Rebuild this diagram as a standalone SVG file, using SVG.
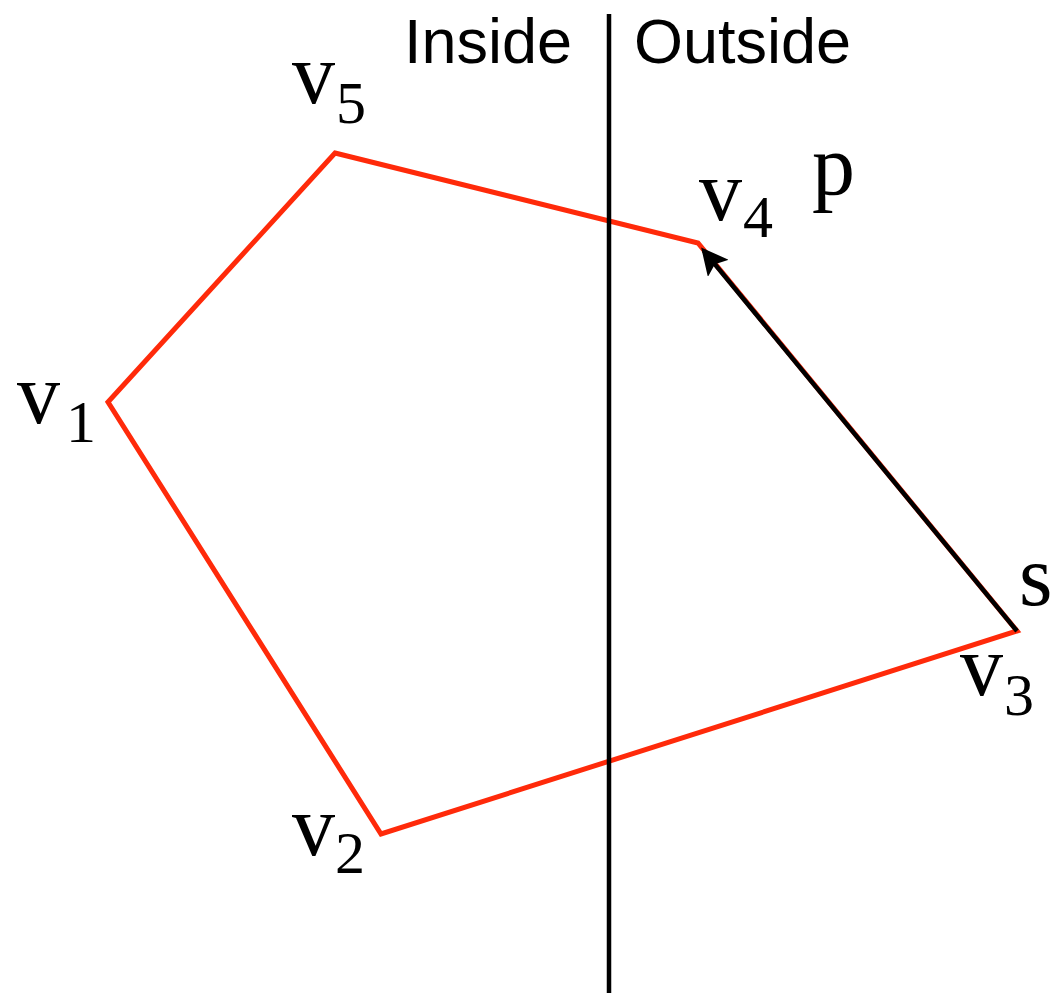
<svg xmlns="http://www.w3.org/2000/svg" width="1050" height="995" viewBox="0 0 1050 995">
<style>
.lbl{font-family:'Liberation Serif','Times New Roman',Times,serif;font-size:86px;fill:#000}
.sub{font-size:60px}
.side{font-family:"Liberation Sans",Arial,sans-serif;font-size:63px;fill:#000}
.poly{fill:none;stroke:#ff2a0a;stroke-width:5;stroke-linejoin:miter}
.edge{fill:none;stroke:#000;stroke-width:4.5}
</style>
<defs>
<marker id="ah" markerWidth="6" markerHeight="6" refX="5" refY="3" orient="auto" markerUnits="strokeWidth">
<path d="M0,0 L6,3 L0,6 L1.2,3 Z" fill="#000"/>
</marker>
</defs>
<rect width="1050" height="995" fill="#fff"/>
<g id="polygon">
<polygon class="poly" points="335,153 698,243 1017,631 381,834 108,402"/>
</g>
<g id="connectors">
<line class="edge" x1="609" y1="14" x2="609" y2="993"/>
<line class="edge" x1="1017" y1="631" x2="704" y2="251" marker-end="url(#ah)"/>
</g>
<g id="side-labels">
<text class="side" x="404" y="63">Inside</text>
<text class="side" x="634" y="63">Outside</text>
</g>
<g id="v5"><text class="lbl" x="292" y="103">v</text><text class="lbl sub" x="336" y="123">5</text></g>
<g id="v4"><text class="lbl" x="699" y="220">v</text><text class="lbl sub" x="743" y="237">4</text></g>
<g id="p"><text class="lbl" x="812" y="194">p</text></g>
<g id="s"><text class="lbl" x="1019" y="605">s</text></g>
<g id="v3"><text class="lbl" x="960" y="695">v</text><text class="lbl sub" x="1004" y="715">3</text></g>
<g id="v1"><text class="lbl" x="17" y="423">v</text><text class="lbl sub" x="66" y="442">1</text></g>
<g id="v2"><text class="lbl" x="292" y="855">v</text><text class="lbl sub" x="335" y="873">2</text></g>
</svg>
